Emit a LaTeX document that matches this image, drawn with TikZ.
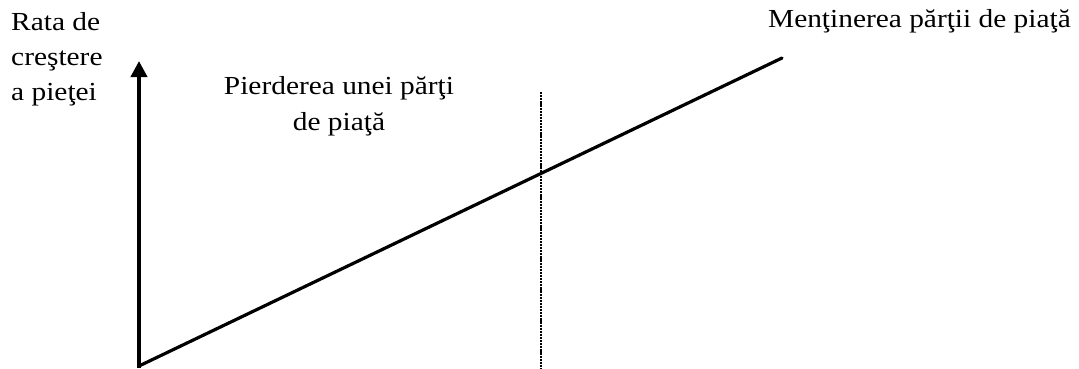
\documentclass[tikz,border=0pt]{standalone}
\usepackage{fontspec}
\setmainfont{Liberation Serif}
\usetikzlibrary{arrows.meta}
\tikzset{
  lab/.style={inner sep=0pt,font=\fontsize{26}{35}\selectfont,xscale=1.13},
  axis/.style={line width=3.8pt,-{Triangle[width=16pt,length=16pt]}},
  trend/.style={line width=3.2pt,line cap=round},
  split/.style={line width=2.6pt,dash pattern=on 2.2pt off 0.9pt}
}
\begin{document}
\begin{tikzpicture}[x=1pt,y=-1pt]
\useasboundingbox (0,0) rectangle (1079,368);
\coordinate (O) at (139,368);
\coordinate (ytop) at (139,61);
\coordinate (tend) at (782,58);
\coordinate (s1) at (541,92);
\coordinate (s2) at (541,368);
% axis, trend line and split
\draw[axis] (O) -- (ytop);
\draw[trend] (139,366) -- (tend);
\draw[split] (s1) -- (s2);
% labels
\node[lab,anchor=north west,align=left] (ylab) at (11,12) {Rata de\\creştere\\a pieţei};
\node[lab,anchor=north,align=center,font=\fontsize{26}{36}\selectfont] (loss) at (339,76) {Pierderea unei părţi\\de piaţă};
\node[lab,anchor=base east] (keep) at (1071,27) {Menţinerea părţii de piaţă};
\end{tikzpicture}
\end{document}
